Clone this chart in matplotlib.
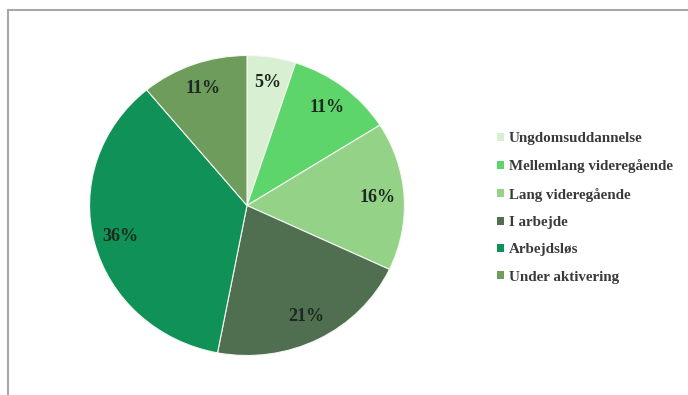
import matplotlib.pyplot as plt
from matplotlib.patches import Patch
from matplotlib.lines import Line2D

labels = ["Ungdomsuddannelse", "Mellemlang videregående", "Lang videregående",
          "I arbejde", "Arbejdsløs", "Under aktivering"]
shares = [5, 11, 16, 21, 36, 11]
colors = ["#d8efd2", "#5dd56b", "#94d387", "#506f51", "#0f9157", "#6e9c5c"]

W, H = 688, 395
fig = plt.figure(figsize=(W / 100, H / 100), dpi=100)

# pie area (slightly wider than tall)
ax = fig.add_axes([88 / W, (H - 357) / H, 318 / W, 303 / H])
wedges, texts, autotexts = ax.pie(
    shares, colors=colors, startangle=90, counterclock=False,
    autopct="%d%%", pctdistance=0.83, radius=1,
    wedgeprops=dict(linewidth=0.8, edgecolor="#f4f8f2"),
)
for t in autotexts:
    t.set_fontfamily("Liberation Serif")
    t.set_fontweight("bold")
    t.set_fontsize(13)
    t.set_color("#1c2820")
ax.set_xlim(-1.01, 1.01)
ax.set_ylim(-1.01, 1.01)
ax.set_aspect("auto")
ax.axis("off")

handles = [Patch(facecolor=c, edgecolor="none") for c in colors]
fig.legend(handles, labels, loc="upper left",
           bbox_to_anchor=(497 / W, (H - 132) / H), frameon=False,
           borderpad=0, borderaxespad=0,
           prop=dict(family="Liberation Serif", weight="bold", size=10.8),
           handlelength=0.45, handleheight=0.45, handletextpad=0.35,
           labelspacing=0.96, labelcolor="#3a3a3a")

# chart area border (top and left edges)
fig.add_artist(Line2D([8 / W, 1], [(H - 10) / H, (H - 10) / H],
                      color="#a8a8a8", lw=1.5))
fig.add_artist(Line2D([8 / W, 8 / W], [0, (H - 10) / H],
                      color="#a8a8a8", lw=1.5))

fig.savefig("out.png", dpi=100, facecolor="white")
